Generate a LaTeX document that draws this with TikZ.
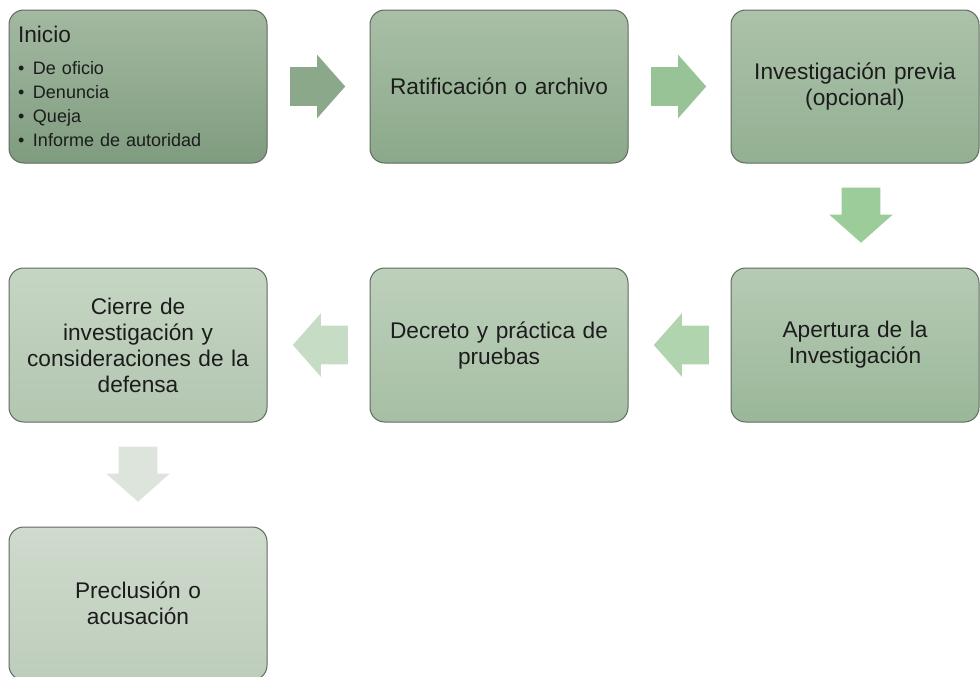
\documentclass[tikz,border=0pt]{standalone}
\usepackage{fontspec}
\setmainfont{Liberation Sans}
\usepackage{tikz}
\usetikzlibrary{shapes.arrows,calc}

\definecolor{boxline}{HTML}{5F6A5F}
\definecolor{inkgrey}{HTML}{1C1C1C}
%% box shades, top and bottom
\definecolor{oneTop}{HTML}{A3B9A1}\definecolor{oneBot}{HTML}{7F9C7F}
\definecolor{twoTop}{HTML}{A9BFA7}\definecolor{twoBot}{HTML}{8BA98A}
\definecolor{thrTop}{HTML}{ACC2AA}\definecolor{thrBot}{HTML}{93B092}
\definecolor{fouTop}{HTML}{B6CBB4}\definecolor{fouBot}{HTML}{9AB799}
\definecolor{fivTop}{HTML}{BDD0BB}\definecolor{fivBot}{HTML}{A6BFA4}
\definecolor{sixTop}{HTML}{C6D6C4}\definecolor{sixBot}{HTML}{B2C6B0}
\definecolor{sevTop}{HTML}{CFDBCD}\definecolor{sevBot}{HTML}{BDCDBB}
%% arrow fills
\definecolor{arrOne}{HTML}{8BA88A}
\definecolor{arrTwo}{HTML}{97C397}
\definecolor{arrThr}{HTML}{9BCC9A}
\definecolor{arrFou}{HTML}{AFD4AE}
\definecolor{arrFiv}{HTML}{C6DCC5}
\definecolor{arrSix}{HTML}{DCE4DB}

\newcommand{\bulitem}[1]{\makebox[11.25pt][l]{\textbullet}#1}

\tikzset{
    stage/.style={draw=boxline, line width=0.75pt, rounded corners=11pt,
        minimum width=193.5pt, minimum height=114.75pt,
        align=center, text width=170pt, text=inkgrey,
        font=\fontsize{17}{19.5}\selectfont},
    blockarrow/.style={single arrow, draw=none, inner sep=0pt, anchor=tail,
        text height=28.5pt, text depth=0pt,
        minimum height=41.25pt, minimum width=47.25pt,
        single arrow head extend=9.375pt, single arrow tip angle=97}
}

\begin{document}
\begin{tikzpicture}[x=0.75pt, y=-0.75pt]
    \useasboundingbox (0,0) rectangle (980,676);
    \clip (0,0) rectangle (980,676);

    %% First row
    \node[stage, top color=oneTop, bottom color=oneBot, align=left,
        inner xsep=6.75pt, text width=180pt,
        font=\fontsize{13.5}{18}\selectfont] (b1) at (138,86.5)
    {{\fontsize{17}{19.5}\selectfont Inicio}\\[6pt]
     \bulitem{De oficio}\\
     \bulitem{Denuncia}\\
     \bulitem{Queja}\\
     \bulitem{Informe de autoridad}};
    \node[stage, top color=twoTop, bottom color=twoBot] (b2) at (499,86.5)
        {Ratificación o archivo};
    \node[stage, top color=thrTop, bottom color=thrBot, minimum width=186pt] (b3) at (855,86.5)
        {Investigación previa\\(opcional)};

    %% Second row
    \node[stage, top color=fouTop, bottom color=fouBot, minimum width=186pt,
        minimum height=115.5pt] (b4) at (855,345)
        {Apertura de la\\Investigación};
    \node[stage, top color=fivTop, bottom color=fivBot, minimum height=115.5pt] (b5) at (499,345)
        {Decreto y práctica de\\pruebas};
    \node[stage, top color=sixTop, bottom color=sixBot, minimum height=115.5pt] (b6) at (138,345)
        {Cierre de\\investigación y\\consideraciones de la\\defensa};

    %% Last one
    \node[stage, top color=sevTop, bottom color=sevBot] (b7) at (138,603.5)
        {Preclusión o\\acusación};

    %% Arrows between the steps
    \node[blockarrow, fill=arrOne] (a1) at ($(b1.east)!0.22!(b2.west)$) {};
    \node[blockarrow, fill=arrTwo] (a2) at ($(b2.east)!0.22!(b3.west)$) {};
    \node[blockarrow, fill=arrThr, rotate=-90] (a3) at ($(b3.south)!0.23!(b4.north)+(6,0)$) {};
    \node[blockarrow, fill=arrFou, rotate=180] (a4) at ($(b4.west)!0.21!(b5.east)$) {};
    \node[blockarrow, fill=arrFiv, rotate=180] (a5) at ($(b5.west)!0.21!(b6.east)$) {};
    \node[blockarrow, fill=arrSix, rotate=-90] (a6) at ($(b6.south)!0.23!(b7.north)$) {};
\end{tikzpicture}
\end{document}
